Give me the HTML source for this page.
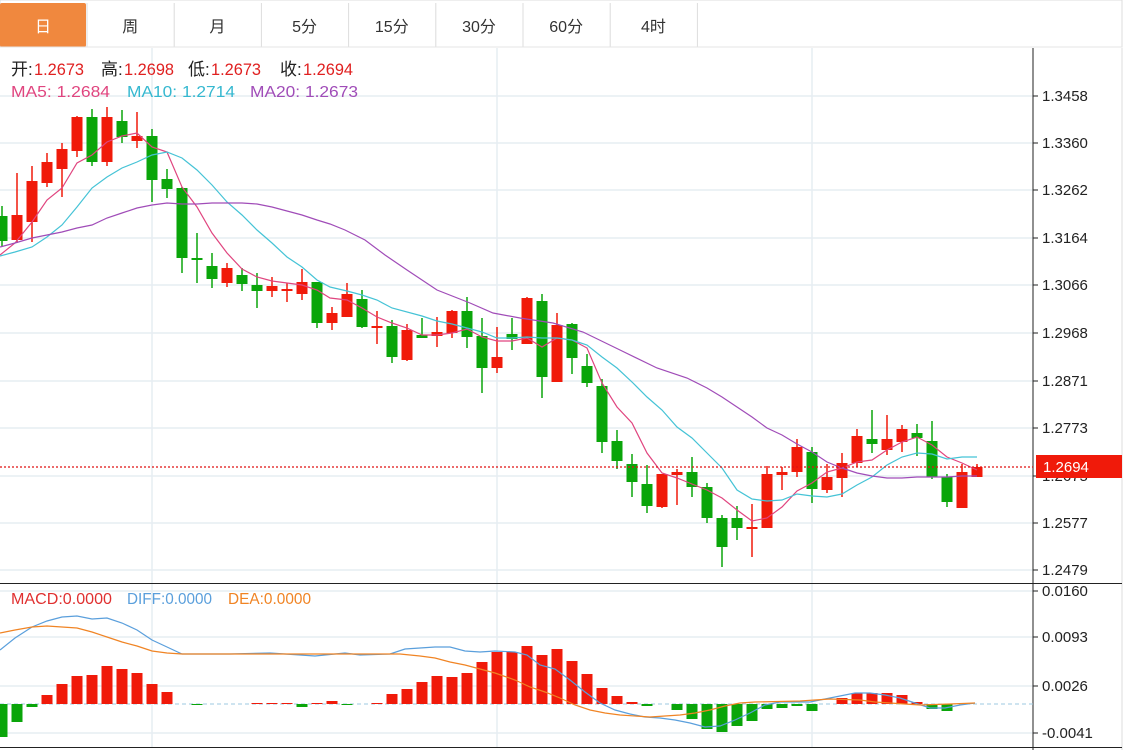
<!DOCTYPE html>
<html><head><meta charset="utf-8"><style>
html,body{margin:0;padding:0;background:#fff;width:1131px;height:750px;overflow:hidden;font-family:"Liberation Sans","Noto Sans CJK SC",sans-serif}
</style></head><body>
<svg id="s" width="1131" height="750" xmlns="http://www.w3.org/2000/svg" font-family="Liberation Sans, Noto Sans CJK SC, sans-serif">
<rect width="1131" height="750" fill="#fff"/>
<g id="grid" stroke="#e6edf2" stroke-width="1.5"></g>
<g id="tabs"></g>
<g id="chart"></g>
</svg>
<script>
const S=document.getElementById('s');const NS='http://www.w3.org/2000/svg';
function el(t,a,p,txt){const e=document.createElementNS(NS,t);for(const k in a)e.setAttribute(k,a[k]);if(txt!==undefined)e.textContent=txt;(p||S).appendChild(e);return e;}
const G=document.getElementById('grid'),C=document.getElementById('chart'),T=document.getElementById('tabs');
[96,143,190,238,285,333,381,428,476,523,570,591,637,686,733].forEach(y=>el('line',{x1:0,x2:1033,y1:y,y2:y},G));
[152,497,812].forEach(x=>el('line',{x1:x,x2:x,y1:48,y2:747},G));
el('rect',{x:0,y:0,width:1122,height:47,fill:'#fff',stroke:'#dcdcdc'},T);
const tabs=['日','周','月','5分','15分','30分','60分','4时'];
tabs.forEach((t,i)=>{const x=i*87.2;
 if(i==0)el('rect',{x:0,y:3,width:86,height:44,fill:'#f0883e',rx:2},T);
 el('line',{x1:x+87,x2:x+87,y1:3,y2:47,stroke:'#dcdcdc'},T);
 el('text',{x:x+43,y:32,'text-anchor':'middle','font-size':16,fill:i==0?'#fff':'#333'},T,t);});
el('line',{x1:0,x2:1122,y1:47,y2:47,stroke:'#e4e4e4'},T);
el('line',{x1:1033,x2:1033,y1:48,y2:750,stroke:'#222','stroke-width':1},C);
el('line',{x1:1122,x2:1122,y1:48,y2:750,stroke:'#ddd','stroke-width':1},C);
el('line',{x1:0,x2:1122,y1:583.5,y2:583.5,stroke:'#222','stroke-width':1},C);
el('line',{x1:0,x2:1122,y1:747.5,y2:747.5,stroke:'#222','stroke-width':1},C);
[['1.3458',96],['1.3360',143],['1.3262',190],['1.3164',238],['1.3066',285],['1.2968',333],['1.2871',381],['1.2773',428],['1.2675',476],['1.2577',523],['1.2479',570],['0.0160',591],['0.0093',637],['0.0026',686],['-0.0041',733]].forEach(([t,y])=>{
 el('line',{x1:1033,x2:1038,y1:y,y2:y,stroke:'#222'},C);
 el('text',{x:1042,y:y+5,'font-size':15,fill:'#222'},C,t);});
el('text',{x:1042,y:760,'font-size':15,fill:'#222'},C,'118.1333');
const K=[
['g',216,241,206,247],['r',215,240,173,243],['r',181,222,166,242],['r',162,183,153,187],['r',149,169,143,197],['r',117,151,116,157],['g',117,162,109,166],['r',117,162,107,166],['g',121,137,110,143],['r',136,141,112,148],
['g',136,180,129,202],['g',179,189,169,198],['g',188,258,187,273],['g',258,260,233,283],['g',266,279,253,288],['r',268,283,263,287],['g',275,284,268,291],['g',285,291,273,308],['r',286,291,277,297],['r',289,291,283,302],
['r',282,294,269,300],['g',282,323,282,328],['r',313,323,307,330],['r',294,317,283,317],['g',299,327,290,328],['r',326,327,311,344],['g',326,357,320,363],['r',330,360,324,361],['g',335,338,318,338],['r',332,336,317,347],
['r',311,333,310,338],['g',311,337,297,348],['g',336,368,318,393],['r',357,368,327,373],['g',334,339,318,350],['r',298,344,297,344],['g',301,377,294,398],['r',325,382,313,382],['g',324,358,323,374],['g',366,383,354,387],
['g',386,442,379,453],['g',441,461,430,469],['g',464,482,454,497],['g',484,506,465,513],['r',474,507,474,508],['r',472,475,469,505],['g',472,487,457,497],['g',487,518,483,523],['g',518,547,515,567],['g',518,528,506,540],
['r',527,529,504,557],['r',474,528,466,528],['r',472,475,467,490],['r',447,472,439,477],['g',452,489,447,503],['r',477,490,464,493],['r',463,478,453,497],['r',436,463,429,467],['g',439,444,410,453],['r',439,450,415,455],
['r',429,442,425,452],['g',433,438,424,456],['g',441,477,421,479],['g',477,502,474,507],['r',472,508,464,508],['r',467,477,464,477]];
const RED='#f01a0a',GRN='#0aa50a';
K.forEach((k,i)=>{const x=2+15*i,c=k[0]=='r'?RED:GRN;
 el('line',{x1:x,x2:x,y1:k[3],y2:k[4],stroke:c,'stroke-width':1.5},C);
 el('rect',{x:x-5.5,y:k[1],width:11,height:Math.max(2,k[2]-k[1]),fill:c},C);});
function pl(pts,col,w){el('polyline',{points:pts.map(p=>p.join(',')).join(' '),fill:'none',stroke:col,'stroke-width':w||1.2},C);}
pl([[0,255],[15,243],[32,222],[47,200],[62,188],[77,163],[92,155],[107,142],[122,136],[137,133],[152,147],[167,152],[182,187],[197,207],[212,233],[227,253],[242,269],[257,277],[272,281],[287,283],[302,285],[317,290],[330,298],[347,300],[362,308],[377,317],[392,323],[407,328],[422,335],[437,335],[452,333],[467,329],[482,337],[497,341],[512,341],[527,338],[542,347],[557,338],[572,340],[587,348],[602,383],[617,407],[632,423],[647,453],[662,473],[677,478],[692,484],[707,490],[722,498],[737,510],[752,521],[767,518],[782,507],[797,491],[812,483],[827,472],[842,468],[857,462],[872,460],[887,450],[902,442],[917,437],[932,445],[947,457],[962,463],[977,470]],'#e0457f');
pl([[0,256],[15,252],[32,247],[47,237],[62,225],[77,207],[92,188],[107,177],[122,168],[137,162],[152,155],[167,152],[182,158],[197,170],[212,185],[227,202],[242,215],[257,230],[272,243],[287,257],[302,267],[317,280],[330,287],[347,291],[362,295],[377,300],[392,308],[422,316],[437,321],[452,324],[467,328],[482,332],[497,338],[512,338],[527,337],[542,338],[557,338],[572,340],[587,345],[602,357],[617,368],[632,382],[647,397],[662,410],[677,427],[692,438],[707,453],[722,468],[737,490],[752,499],[767,501],[782,500],[797,494],[812,496],[827,497],[842,494],[857,485],[872,477],[887,465],[902,457],[917,453],[932,454],[947,459],[962,457],[977,457]],'#45c3d6');
pl([[0,247],[15,243],[32,238],[47,235],[62,232],[77,228],[92,225],[107,218],[122,213],[137,208],[152,205],[167,203],[182,204],[197,204],[212,203],[227,203],[242,203],[257,204],[272,207],[287,211],[302,215],[317,220],[330,224],[345,230],[365,240],[385,255],[407,270],[437,290],[470,303],[493,313],[520,318],[553,323],[583,332],[620,350],[657,368],[687,378],[707,388],[722,397],[737,407],[752,417],[767,428],[782,435],[797,444],[812,452],[827,462],[842,468],[857,473],[872,476],[887,478],[902,478],[917,477],[932,477],[947,477],[962,476],[977,476]],'#a04cb8');
el('line',{x1:0,x2:1033,y1:467,y2:467,stroke:'#e01010','stroke-width':1.2,'stroke-dasharray':'2,2'},C);
el('rect',{x:1036,y:455,width:86,height:23,fill:'#f01a0a'},C);
el('text',{x:1043,y:472,'font-size':15,fill:'#fff'},C,'1.2694');
[[11,'开:','#222'],[34,'1.2673','#e02020'],[101,'高:','#222'],[124,'1.2698','#e02020'],[188,'低:','#222'],[211,'1.2673','#e02020'],[280,'收:','#222'],[303,'1.2694','#e02020']].forEach(([x,t,c])=>{
 const a={x:x,y:75,'font-size':17,fill:c};if(t.length>3){a.textLength=50;a.lengthAdjust='spacingAndGlyphs';}
 el('text',a,C,t);});
el('text',{x:11,y:97,'font-size':16,fill:'#e0457f',textLength:99,lengthAdjust:'spacingAndGlyphs'},C,'MA5: 1.2684');
el('text',{x:127,y:97,'font-size':16,fill:'#35b8d0',textLength:108,lengthAdjust:'spacingAndGlyphs'},C,'MA10: 1.2714');
el('text',{x:250,y:97,'font-size':16,fill:'#a04cb8',textLength:108,lengthAdjust:'spacingAndGlyphs'},C,'MA20: 1.2673');
el('line',{x1:0,x2:1033,y1:704,y2:704,stroke:'#9cc8e0','stroke-dasharray':'4,3'},C);
const M=[737,722,707,695,684,676,675,666,669,673,684,692,704,705,704,704,704,703,703,703,707,703,701,705,704,703,694,689,682,676,677,673,662,652,652,646,655,649,661,674,688,696,702,706,704,710,719,729,732,726,721,709,708,706,711,704,698,693,693,693,695,702,709,711,704,704];
M.forEach((y,i)=>{const x=2+15*i;const up=y<704;const h=Math.abs(y-704);if(h<1)return;
 el('rect',{x:x-5.5,y:up?y:704,width:11,height:h,fill:up?RED:GRN},C);});
pl([[0,650],[15,638],[32,627],[47,621],[62,617],[77,616],[92,619],[107,618],[122,623],[137,630],[152,640],[167,647],[182,654],[230,654],[270,653],[315,656],[345,653],[360,655],[390,654],[405,649],[420,648],[435,647],[450,647],[465,651],[480,652],[495,651],[515,652],[527,655],[540,665],[555,669],[570,680],[585,692],[600,703],[615,710],[630,714],[645,717],[660,718],[675,720],[690,723],[705,727],[720,726],[735,720],[750,713],[765,705],[780,702],[810,702],[825,699],[840,696],[855,693],[870,693],[885,695],[900,698],[915,703],[930,708],[945,708],[960,705],[975,703]],'#5a9fdc');
pl([[0,633],[15,630],[32,627],[47,626],[62,627],[77,628],[92,632],[107,637],[122,642],[137,646],[152,651],[167,653],[182,654],[400,654],[420,656],[435,658],[450,662],[465,665],[480,669],[495,673],[515,680],[530,687],[545,692],[560,698],[575,705],[590,710],[605,713],[620,715],[650,717],[680,715],[695,713],[710,710],[725,706],[740,703],[755,702],[800,701],[830,699],[860,700],[875,702],[890,703],[920,705],[950,704],[975,703]],'#f08424');
el('text',{x:11,y:604,'font-size':16,fill:'#e03030',textLength:101,lengthAdjust:'spacingAndGlyphs'},C,'MACD:0.0000');
el('text',{x:127,y:604,'font-size':16,fill:'#5a9fdc',textLength:85,lengthAdjust:'spacingAndGlyphs'},C,'DIFF:0.0000');
el('text',{x:228,y:604,'font-size':16,fill:'#f08424',textLength:83,lengthAdjust:'spacingAndGlyphs'},C,'DEA:0.0000');
</script>
</body></html>
